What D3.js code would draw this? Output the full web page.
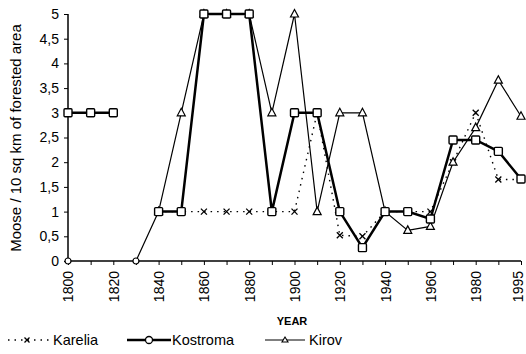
<!DOCTYPE html>
<html><head><meta charset="utf-8">
<script src="https://cdn.jsdelivr.net/npm/d3@7"></script>
<style>body{margin:0;background:#fff}svg{font-family:"Liberation Sans",Arial,sans-serif}</style>
</head><body><svg id="c" width="526" height="354"></svg>
<script>
const years = ["1800","1810","1820","1830","1840","1850","1860","1870","1880","1890","1900","1910","1920","1930","1940","1950","1960","1970","1980","1990","1995"];
const yearLabels = ["1800","1820","1840","1860","1880","1900","1920","1940","1960","1980","1995"];
const yTicks = [0,0.5,1,1.5,2,2.5,3,3.5,4,4.5,5];
const karelia  = [null,null,null,null,1,1,1,1,1,1,1,3,0.52,0.5,1,1,1,2,3,1.65,1.65];
const kostroma = [3,3,3,null,1,1,5,5,5,1,3,3,1,0.27,1,1,0.85,2.45,2.45,2.22,1.66];
const kirov    = [0,null,null,0,1,3,5,5,5,3,5,1,3,3,1,0.62,0.7,2,2.7,3.66,2.93];

const svg = d3.select("#c");
const x = d3.scalePoint().domain(years).range([68,521]);
const y = d3.scaleLinear().domain([0,5]).range([261,14]);

// axes
const xa = svg.append("g").attr("transform","translate(0,261)")
  .call(d3.axisBottom(x).tickSize(4).tickFormat(d => yearLabels.includes(d) ? d : ""));
xa.select(".domain").attr("d","M68,0H521").attr("stroke-width",1.5);
xa.selectAll("text").attr("transform","rotate(-90)").attr("text-anchor","end")
  .attr("x",-10).attr("y",d => d==="1995" ? -3 : 0).attr("dy","0.35em").style("font-size","14px").attr("fill","#000");
const ya = svg.append("g").attr("transform","translate(68,0)")
  .call(d3.axisLeft(y).tickValues(yTicks).tickSize(4).tickFormat(d => String(d).replace(".",",")));
ya.select(".domain").attr("d","M0,261V14").attr("stroke-width",1.5);
ya.selectAll("text").style("font-size","14px").attr("x",-9).attr("fill","#000");

svg.append("text").attr("transform","translate(21,138) rotate(-90)").attr("text-anchor","middle")
  .style("font-size","15px").text("Moose / 10 sq  km of forested area");
svg.append("text").attr("x",292).attr("y",325).attr("text-anchor","middle")
  .style("font-size","11px").style("font-weight","bold").text("YEAR");

function series(vals){ return years.map((yr,i)=>({yr, v:vals[i]})); }
const line = d3.line().defined(d=>d.v!==null).x(d=>x(d.yr)).y(d=>y(d.v));

// Karelia
const kd = series(karelia);
svg.append("path").attr("d",line(kd)).attr("fill","none").attr("stroke","#000")
  .attr("stroke-width",1.4).attr("stroke-dasharray","1.5,5");
const cross = "M-3,-3L3,3M-3,3L3,-3";
svg.selectAll(".kx").data(kd.filter(d=>d.v!==null)).join("path")
  .attr("transform",d=>`translate(${x(d.yr)},${y(d.v)})`).attr("d",cross)
  .attr("stroke","#000").attr("stroke-width",1.3);

// Kirov
const vd = series(kirov);
svg.append("path").attr("d",line(vd)).attr("fill","none").attr("stroke","#000").attr("stroke-width",1.2);
const tri = "M0,-4.5L4,3L-4,3Z";
svg.selectAll(".kt").data(vd.filter(d=>d.v!==null)).join("path")
  .attr("transform",d=>`translate(${x(d.yr)},${y(d.v)})`).attr("d",d=>d.v===0?"M3,0A3,3 0 1,1 -3,0A3,3 0 1,1 3,0":tri)
  .attr("fill","#fff").attr("stroke","#000").attr("stroke-width",1.2);

// Kostroma
const sd = series(kostroma);
svg.append("path").attr("d",line(sd)).attr("fill","none").attr("stroke","#000").attr("stroke-width",2.5);
svg.selectAll(".ks").data(sd.filter(d=>d.v!==null)).join("rect")
  .attr("x",d=>x(d.yr)-4).attr("y",d=>y(d.v)-4).attr("width",8).attr("height",8).attr("rx",1)
  .attr("fill","#fff").attr("stroke","#000").attr("stroke-width",1.4);

// legend
const lg = svg.append("g").style("font-size","14.5px");
lg.append("path").attr("d","M8,340H50").attr("stroke","#000").attr("stroke-width",1.4).attr("stroke-dasharray","1.5,5");
lg.append("path").attr("transform","translate(27,340)").attr("d","M-2.5,-2.5L2.5,2.5M-2.5,2.5L2.5,-2.5").attr("stroke","#000").attr("stroke-width",1.3);
lg.append("text").attr("x",53).attr("y",345).text("Karelia");
lg.append("path").attr("d","M127,340H171").attr("stroke","#000").attr("stroke-width",2.4);
lg.append("circle").attr("cx",149).attr("cy",340).attr("r",3.5).attr("fill","#fff").attr("stroke","#000").attr("stroke-width",1.3);
lg.append("text").attr("x",172).attr("y",345).text("Kostroma");
lg.append("path").attr("d","M265,340H305").attr("stroke","#000").attr("stroke-width",1.2);
lg.append("path").attr("transform","translate(285,340)").attr("d","M0,-3L3,2L-3,2Z").attr("fill","#fff").attr("stroke","#000").attr("stroke-width",1.1);
lg.append("text").attr("x",309).attr("y",345).text("Kirov");
</script></body></html>
